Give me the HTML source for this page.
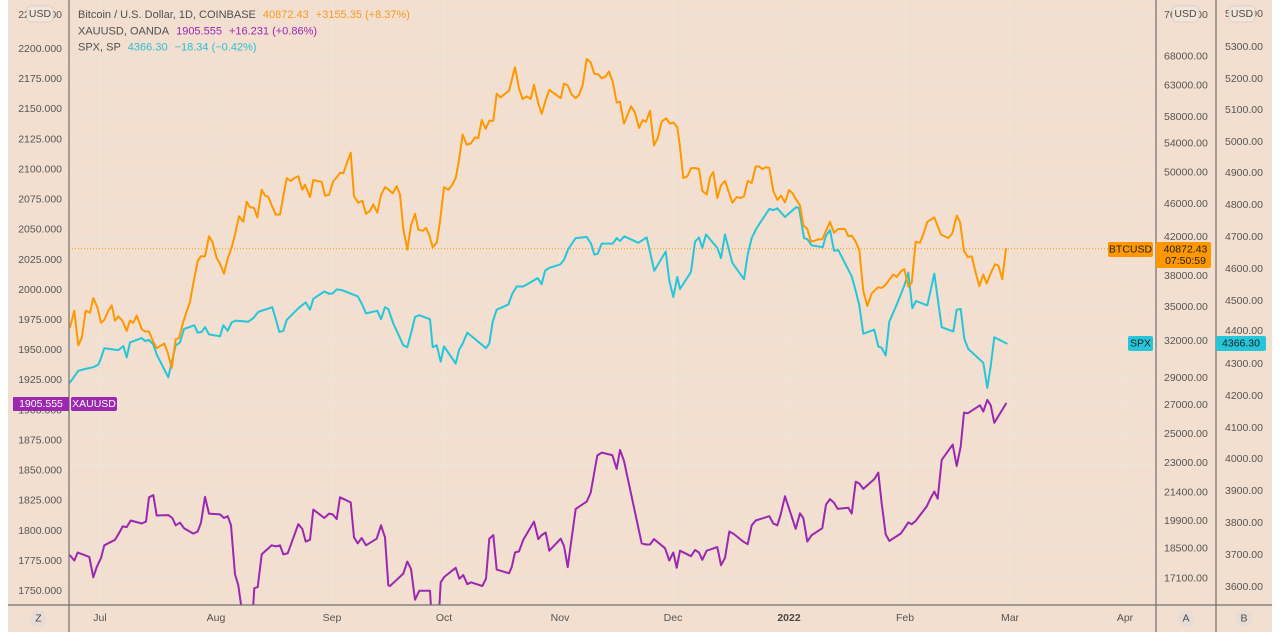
<!DOCTYPE html>
<html>
<head>
<meta charset="utf-8">
<style>
  html,body{margin:0;padding:0;background:#ffffff;}
  svg{display:block;}
  text{font-family:"Liberation Sans", sans-serif;}
</style>
</head>
<body>
<svg width="1280" height="640" viewBox="0 0 1280 640" xmlns="http://www.w3.org/2000/svg">
  <defs>
    <clipPath id="plot"><rect x="69" y="0" width="1087" height="605"/></clipPath>
  </defs>
  <rect x="0" y="0" width="1280" height="640" fill="#ffffff"/>
  <rect x="8" y="0" width="1264" height="632" fill="#f2dfcf"/>

  <g stroke="#ede4dc" stroke-width="1.2">
    <line x1="100" y1="0" x2="100" y2="605"/>
    <line x1="216" y1="0" x2="216" y2="605"/>
    <line x1="332" y1="0" x2="332" y2="605"/>
    <line x1="444" y1="0" x2="444" y2="605"/>
    <line x1="560" y1="0" x2="560" y2="605"/>
    <line x1="673" y1="0" x2="673" y2="605"/>
    <line x1="789" y1="0" x2="789" y2="605"/>
    <line x1="905" y1="0" x2="905" y2="605"/>
    <line x1="1010" y1="0" x2="1010" y2="605"/>
    <line x1="1125" y1="0" x2="1125" y2="605"/>
    <line x1="69" y1="14.8" x2="1156" y2="14.8"/>
    <line x1="69" y1="56.7" x2="1156" y2="56.7"/>
    <line x1="69" y1="85.6" x2="1156" y2="85.6"/>
    <line x1="69" y1="116.8" x2="1156" y2="116.8"/>
    <line x1="69" y1="143.7" x2="1156" y2="143.7"/>
    <line x1="69" y1="172.7" x2="1156" y2="172.7"/>
    <line x1="69" y1="204.1" x2="1156" y2="204.1"/>
    <line x1="69" y1="238.4" x2="1156" y2="238.4"/>
    <line x1="69" y1="276.2" x2="1156" y2="276.2"/>
    <line x1="69" y1="307.2" x2="1156" y2="307.2"/>
    <line x1="69" y1="341" x2="1156" y2="341"/>
    <line x1="69" y1="378" x2="1156" y2="378"/>
    <line x1="69" y1="405" x2="1156" y2="405"/>
    <line x1="69" y1="434" x2="1156" y2="434"/>
    <line x1="69" y1="465.5" x2="1156" y2="465.5"/>
    <line x1="69" y1="492.7" x2="1156" y2="492.7"/>
    <line x1="69" y1="520" x2="1156" y2="520"/>
    <line x1="69" y1="547.6" x2="1156" y2="547.6"/>
    <line x1="69" y1="577.2" x2="1156" y2="577.2"/>
  </g>

  <line x1="69" y1="248.7" x2="1108" y2="248.7" stroke="#ff9800" stroke-width="1" stroke-dasharray="1 2"/>

  <g clip-path="url(#plot)" fill="none" stroke-width="2" stroke-linejoin="round" stroke-linecap="round">
    <polyline stroke="#9c27b0" points="70,555.4 74.3,560.5 77.7,552.5 89.3,556.9 93.3,577.3 96.7,567.1 101,558 104.3,545.3 115,539.8 118.3,534.4 122.7,526.4 126.7,527.1 130.7,520.5 141.7,523.5 146,521.6 149,497.3 153.3,495.1 156.7,515.5 168.3,515.1 172.3,518 175.7,525.3 180,522.7 184,528.2 193.3,533.6 197.7,531.5 201,522.7 205,496.9 209,513.6 220,514.4 224,518 227.7,516.2 231,525.3 235,574.3 238.3,585.3 246,640 251,640 254.3,588.2 257.7,587.1 261.7,554.4 271.7,545.3 276,546.4 280,545.3 283.3,554.4 287.7,553.3 298.3,524.2 302.3,528.9 305.7,541.6 310,539.8 313.3,509.6 324.3,518 329,513.6 332.7,514.4 336.7,519.1 340,497.3 350.7,502.4 354,537.3 357.7,543.4 361.7,538 366,545.3 376.7,538.7 381,525.3 385,537.3 388.3,585.3 390,586 396.7,579.8 403.3,573.6 407.3,561.6 411,568.9 415,599.8 419.3,590.7 430,590.7 433,640 437.5,640 440.7,582.3 444.3,576.9 455.7,567.8 459.3,578.7 463.3,575.1 467.3,584.2 471,582.3 482.3,586 486,578.7 489.3,538.7 493.3,535.1 496.7,569.6 509,573.3 511.7,567.1 515,552.5 519,551.4 523.3,539.8 534,521.6 538.3,539.1 541.7,535.1 545.7,532.5 549.3,550.7 560.7,538.7 564,546 567.7,567.1 575.7,508.9 586.7,501.6 590.7,492.6 597.3,455.5 601.7,452.6 612.3,455.1 616.7,468.9 620,450 624,460.9 641.7,543.4 646,544.5 650,544.5 654,539.1 665,548.2 669.3,560.5 673.3,552.5 676.7,567.8 680,550.7 691,556.2 695,550 699,552.5 702.3,559.8 706.7,550.7 717.3,547.1 721,565.2 725,558 729.3,531.5 733.3,533.6 743.3,541.6 747.7,544.2 751.7,525.3 755.7,520.5 769.3,516.2 773.3,523.5 777.3,525.3 780.7,514.4 785,496.2 795.7,528.9 800,513.3 803.3,518 807.3,541.6 811.7,535.1 822.3,528.2 826,504.6 830,499.1 834,502.7 837.7,508.9 848.3,507.8 851.7,513.6 855.7,481.7 859.3,483.5 863.3,488.9 874.3,479.1 878.3,472.6 881.7,503.5 885.7,534.4 889.3,540.9 900.7,533.6 904,528.9 908.3,522.4 911.7,524.2 915.7,520.9 926.7,506.4 930.7,498 934.3,491.5 937.7,498.7 941.7,459.9 952.7,444.6 956.7,466 960.7,446.4 964,412.6 967.7,413.3 980,405.3 983.3,411.5 987.3,399.9 990.7,405.3 994.3,422.8 1006,403.6"/>
    <polyline stroke="#26c6da" points="70,382.4 78.3,370.8 85,369 93.3,367.2 98.3,364.6 101,358.1 104.3,348.2 118.3,350.1 123.3,346.1 126.7,357.3 130,342.4 141.7,338.1 145,341 149,339.9 153.3,344.6 156.7,354.4 168.3,377.3 171,365.3 175.7,345.3 180,342.4 184,329 194.3,325.3 197.7,332.6 201.7,331.9 205,327.2 209,334.4 220,336.3 223.3,325.3 227.7,330.8 231.7,322.4 235.7,320.6 248.3,321.7 253.3,318.1 258.3,311.9 272.3,307.2 276,319.9 279.3,331.9 283.3,330.8 286.7,319.9 298.3,308.3 305.7,302.4 310,309.7 313.3,298.8 324.3,291.5 329,293.7 332.7,293.4 336.7,289.4 341.7,290.1 357.7,296.3 361.7,303.5 366,313.4 377.3,310.8 381,319.2 385,307.2 388.3,309 393.3,323.5 403.3,345.3 407.3,347.2 411.7,330.8 415,317 419.3,315.2 430,319.2 432.7,347.2 436.7,345.3 440.7,361.7 444,346.4 455.7,363.5 459,350.1 462.7,343.5 467.3,332.6 486,348.2 489.3,343.5 492.7,321.7 496.7,309.7 508.3,304.6 512.3,293.7 516.7,286.5 523.3,286.5 537.7,278.1 541.7,284.3 545,270.8 549,267.9 560,264.6 564,259.9 568.3,249 575.7,238.1 586.7,237 591,243.6 594.3,254.5 597.7,253.7 601.7,243.6 612.7,243.6 616.7,238.1 620,241 624.3,236.3 638.3,242.8 646.7,237.4 654.3,270.8 665.7,251.6 669.3,280.6 673.3,297 677.3,277 680,289 691,271.9 695,241.7 699,237.4 702.3,247.9 706,234.5 717.3,247.9 721,258.1 725,234.5 732.3,262.8 744,279.2 747.7,254.5 751.7,238.1 756.7,227.9 769.3,209 773.3,210.1 777.3,208.3 785,217 796,207.2 799,207.9 804,238.1 807.3,239.2 811.7,245.4 822.7,247.2 826,235.6 830,230.1 834,250.8 838.3,250.1 851.7,276.3 855.7,290.8 859.3,305.4 863.3,333.7 874.3,329.7 878.3,346.4 881.7,347.9 885.7,355.5 889.3,321.7 896.7,304.6 904,286.5 908.3,272.6 912.3,308.3 916,301 927.3,305.4 934.3,273.7 941.7,327.2 953.3,331.5 956.7,309.7 960.7,309 964.3,338.8 968.3,349 983.3,362.8 987.3,387.9 990.7,366.1 994.3,337.3 1006.7,343.5"/>
    <polyline stroke="#ff9800" points="70,327.2 74.3,310.8 78.3,345.3 81.7,338.1 85.7,310.8 90,312.6 93.3,298.1 97.3,307.2 101,322.8 104.3,319.9 108.3,310.8 111.7,305.4 115,320.6 118.3,316.3 122.3,320.6 126.7,330.8 130,320.6 133.3,322.8 136.7,315.5 141.7,329 145,331.5 149,331.5 153.3,341.7 156.7,348.2 164.3,343.5 167.7,352.6 171.7,367.9 175.7,339.2 179,338.1 183.3,321.7 190,301.7 193.3,283.5 197.7,261 201,256.3 205,256.3 209,236.3 212.3,241.7 216.7,258.1 220,263.6 224,273.7 227.3,259.9 231.7,247.2 235,234.5 239,216.3 243.3,221.8 246.7,201.8 250,207.2 254,207.9 257.3,217.4 261.7,189.8 265,195.6 268.3,197 271.7,205.4 275.7,214.5 280,214.5 283.3,196.3 286.7,178.1 290.7,181 294.3,178.1 298.3,176.3 302.3,189.8 305,184.7 310,197 313.3,180 317.3,181 321.7,181.8 325,195.6 329,194.9 333.3,181 336.7,177.4 340,172.7 343.3,173.4 346.7,163.6 350.7,152.7 354,196.3 358.3,202.8 362.3,200.7 366,213.8 370,210.8 373.3,204.3 377.3,212.7 381,195.2 385,187.2 389,189.8 390,190.9 392.7,193.4 396.7,186.1 400,194.5 403.3,229 407.3,249.7 411,225.4 415,213.8 418.3,229.7 422.7,230.8 426,227.9 429.3,235.2 432.7,247.2 436.7,242.8 440,221.8 444,187.2 448.3,189.8 452.3,184.7 455.7,178.1 459,160 462.7,134.5 466.7,144.7 470.7,143.6 475,137.4 478.3,138.1 481.7,120 485.7,129 489.3,120.7 493.3,120.7 496.7,93.8 500.7,97.4 505,93.8 509,90.9 515,67.3 519,88.3 522.7,99.2 526.7,96.3 530.7,98.9 534,84.7 538.3,103.6 541.7,113.8 545.7,100 549.3,89.8 556.7,95.3 560.7,98.2 564,83.6 567.7,85.4 571.7,94.5 575.7,98.2 579.3,94.5 582.7,84.7 586.7,58.9 590.7,62.5 594.3,73.8 598.3,74.5 601.7,78.2 605,77.1 609,71.6 612.7,81.8 616.7,102.5 620,101.8 624,123.6 627.3,115.6 631,106.2 635,112.7 639,128 642.7,120 646,121.8 650,110.9 654,145.4 657.7,138.1 661.7,121.8 666,118.2 670,123.6 673.3,122.5 677.3,127.2 680,147.2 683.3,178.1 687.3,176.3 691,168.3 695,168 699,169 702.3,190.9 706.7,194.5 710,177.4 713.3,172 717.3,198.1 721,185.4 725,181 729,192.7 732.3,202.8 736.7,197 740,198.1 744,196.3 747.7,181 751.7,182.9 755.7,166.5 759.3,166.5 762.3,169 766,167.2 769.3,168 773.3,190.9 777.3,199.9 781,195.6 785,202.5 789,190.1 792.7,193.4 796,199.2 800,205.4 803.3,225.4 807.3,229 811,241.7 815,240.7 818.3,239.2 822.3,239.2 826,230.8 830,221.8 834,232.7 838.3,229 845,229 848.3,236.3 851.7,235.6 855.7,241.7 859.3,250.1 863.3,290.8 867.3,306.1 871.7,293.4 875,290.1 878.3,287.2 881.7,287.9 885,285.4 890,278.8 893.3,274.5 896.7,277 900.7,271.6 904.3,269 908.3,286.5 911.7,282.8 915.7,241.7 920,242.8 923.3,234.5 927.3,221.8 934.3,217.4 941,234.5 948.3,238.1 952.3,233.4 956.7,215.6 960,221.8 964,250.8 967.7,257 971.7,256.3 975.7,272.6 979.3,286.1 983.3,274.5 986.7,283.5 991,272.6 995,264.3 998.3,265.4 1002.3,279.2 1006,248.7"/>
  </g>

  <g stroke="#707070" stroke-width="1.2">
    <line x1="69" y1="0" x2="69" y2="632"/>
    <line x1="1156" y1="0" x2="1156" y2="632"/>
    <line x1="1216" y1="0" x2="1216" y2="632"/>
    <line x1="8" y1="605" x2="1272" y2="605"/>
  </g>

  <g font-size="10.5" fill="#555555" text-anchor="end" dominant-baseline="central">
    <text x="62" y="15">2225.000</text>
    <text x="62" y="49">2200.000</text>
    <text x="62" y="79.1">2175.000</text>
    <text x="62" y="109.2">2150.000</text>
    <text x="62" y="139.3">2125.000</text>
    <text x="62" y="169.4">2100.000</text>
    <text x="62" y="199.6">2075.000</text>
    <text x="62" y="229.7">2050.000</text>
    <text x="62" y="259.8">2025.000</text>
    <text x="62" y="289.9">2000.000</text>
    <text x="62" y="320">1975.000</text>
    <text x="62" y="350.1">1950.000</text>
    <text x="62" y="380.2">1925.000</text>
    <text x="62" y="410.3">1900.000</text>
    <text x="62" y="440.4">1875.000</text>
    <text x="62" y="470.5">1850.000</text>
    <text x="62" y="500.7">1825.000</text>
    <text x="62" y="530.8">1800.000</text>
    <text x="62" y="560.9">1775.000</text>
    <text x="62" y="591">1750.000</text>
  </g>

  <g font-size="10.5" fill="#555555" dominant-baseline="central">
    <text x="1164" y="14.8">76000.00</text>
    <text x="1164" y="56.7">68000.00</text>
    <text x="1164" y="85.6">63000.00</text>
    <text x="1164" y="116.8">58000.00</text>
    <text x="1164" y="143.7">54000.00</text>
    <text x="1164" y="172.7">50000.00</text>
    <text x="1164" y="204.1">46000.00</text>
    <text x="1164" y="237">42000.00</text>
    <text x="1164" y="276.2">38000.00</text>
    <text x="1164" y="307.2">35000.00</text>
    <text x="1164" y="341">32000.00</text>
    <text x="1164" y="378">29000.00</text>
    <text x="1164" y="405">27000.00</text>
    <text x="1164" y="434">25000.00</text>
    <text x="1164" y="463">23000.00</text>
    <text x="1164" y="492.7">21400.00</text>
    <text x="1164" y="521">19900.00</text>
    <text x="1164" y="548.5">18500.00</text>
    <text x="1164" y="578.5">17100.00</text>
  </g>

  <g font-size="10.5" fill="#555555" dominant-baseline="central">
    <text x="1225" y="14">5400.00</text>
    <text x="1225" y="47">5300.00</text>
    <text x="1225" y="79">5200.00</text>
    <text x="1225" y="110">5100.00</text>
    <text x="1225" y="142">5000.00</text>
    <text x="1225" y="173">4900.00</text>
    <text x="1225" y="205">4800.00</text>
    <text x="1225" y="237">4700.00</text>
    <text x="1225" y="269">4600.00</text>
    <text x="1225" y="301">4500.00</text>
    <text x="1225" y="331">4400.00</text>
    <text x="1225" y="364">4300.00</text>
    <text x="1225" y="396">4200.00</text>
    <text x="1225" y="428">4100.00</text>
    <text x="1225" y="459">4000.00</text>
    <text x="1225" y="491">3900.00</text>
    <text x="1225" y="523">3800.00</text>
    <text x="1225" y="555">3700.00</text>
    <text x="1225" y="587">3600.00</text>
  </g>

  <g font-size="10.5" fill="#4a4a4a" text-anchor="middle" dominant-baseline="central">
    <rect x="27" y="6" width="26" height="16" rx="4" fill="#f4e5d9" stroke="#d9d2cc"/>
    <text x="40" y="14">USD</text>
    <rect x="1172.5" y="6" width="26" height="16" rx="4" fill="#f4e5d9" stroke="#d9d2cc"/>
    <text x="1185.5" y="14">USD</text>
    <rect x="1229" y="6" width="26" height="16" rx="4" fill="#f4e5d9" stroke="#d9d2cc"/>
    <text x="1242" y="14">USD</text>
  </g>

  <g font-size="11" dominant-baseline="central">
    <text x="78" y="15" fill="#4f4f4f">Bitcoin / U.S. Dollar, 1D, COINBASE<tspan dx="7" fill="#f79a20">40872.43</tspan><tspan dx="7" fill="#f79a20">+3155.35 (+8.37%)</tspan></text>
    <text x="78" y="31.5" fill="#4f4f4f">XAUUSD, OANDA<tspan dx="7" fill="#9c27b0">1905.555</tspan><tspan dx="7" fill="#9c27b0">+16.231 (+0.86%)</tspan></text>
    <text x="78" y="47.5" fill="#4f4f4f">SPX, SP<tspan dx="7" fill="#2bbfd4">4366.30</tspan><tspan dx="7" fill="#2bbfd4">−18.34 (−0.42%)</tspan></text>
  </g>

  <g font-size="10.5" text-anchor="middle" dominant-baseline="central">
    <rect x="13" y="397" width="56" height="14" rx="1" fill="#9c27b0"/>
    <text x="41" y="404" fill="#ffffff">1905.555</text>
    <rect x="71" y="397" width="46" height="14" rx="2" fill="#9c27b0"/>
    <text x="94" y="404" fill="#ffffff">XAUUSD</text>

    <rect x="1108" y="242" width="45" height="15" rx="2" fill="#ff9800"/>
    <text x="1130.5" y="249.5" fill="#1e1e1e">BTCUSD</text>
    <rect x="1156" y="242" width="55" height="26" rx="2" fill="#ff9800"/>
    <text x="1185.5" y="249.5" fill="#1e1e1e">40872.43</text>
    <text x="1185.5" y="261" fill="#1e1e1e">07:50:59</text>

    <rect x="1128" y="336" width="25" height="15" rx="2" fill="#26c6da"/>
    <text x="1140.5" y="343.5" fill="#1e1e1e">SPX</text>
    <rect x="1216" y="336" width="50" height="15" rx="2" fill="#26c6da"/>
    <text x="1241" y="343.5" fill="#1e1e1e">4366.30</text>
  </g>

  <g font-size="10.5" fill="#555555" text-anchor="middle" dominant-baseline="central">
    <text x="100" y="618">Jul</text>
    <text x="216" y="618">Aug</text>
    <text x="332" y="618">Sep</text>
    <text x="444" y="618">Oct</text>
    <text x="560" y="618">Nov</text>
    <text x="673" y="618">Dec</text>
    <text x="789" y="618" font-weight="bold" fill="#4a4a4a">2022</text>
    <text x="905" y="618">Feb</text>
    <text x="1010" y="618">Mar</text>
    <text x="1125" y="618">Apr</text>
  </g>

  <g font-size="10.5" fill="#4a4a4a" text-anchor="middle" dominant-baseline="central">
    <circle cx="38.5" cy="618.5" r="8.5" fill="#e7ddd6"/>
    <text x="38.5" y="618.5">Z</text>
    <circle cx="1186" cy="618.5" r="8.5" fill="#e7ddd6"/>
    <text x="1186" y="618.5">A</text>
    <circle cx="1244" cy="618.5" r="8.5" fill="#e7ddd6"/>
    <text x="1244" y="618.5">B</text>
  </g>
</svg>
</body>
</html>
